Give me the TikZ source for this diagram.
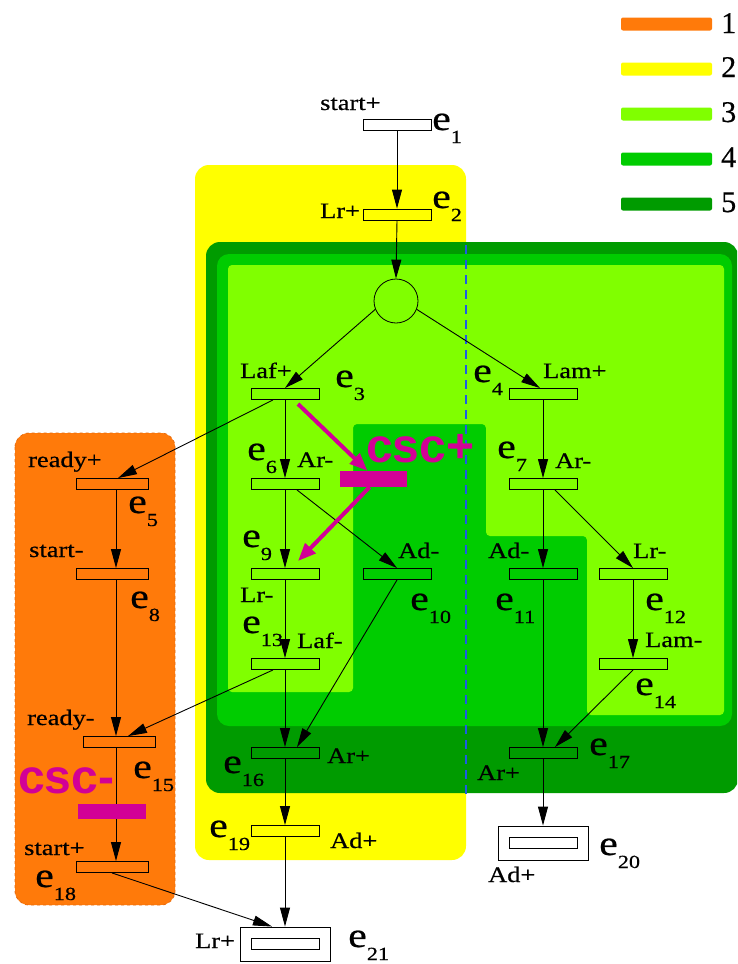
\documentclass[tikz,border=0pt]{standalone}
\usepackage{fontspec}
\setmainfont{Liberation Serif}[FakeStretch=1.2,FakeBold=0.6]
\newfontfamily\cscfont{Liberation Sans}
\newfontfamily\keyfont{Liberation Serif}[FakeBold=0.6]
\usetikzlibrary{arrows.meta,calc}
\definecolor{orng}{RGB}{255,122,10}
\definecolor{orngd}{RGB}{230,105,10}
\definecolor{yel}{RGB}{255,255,0}
\definecolor{g3}{RGB}{128,255,0}
\definecolor{g4}{RGB}{0,204,0}
\definecolor{g5}{RGB}{0,155,0}
\definecolor{csc}{RGB}{210,0,150}
\definecolor{blu}{RGB}{30,90,230}
\newcommand{\ev}[1]{{\fontsize{35}{35}\selectfont e}\raisebox{-13pt}{\fontsize{18.5}{18.5}\selectfont #1}}
\tikzset{
 tr/.style={draw, line width=0.9pt, minimum width=68pt, minimum height=11pt, inner sep=0pt},
 obox/.style={draw, line width=0.9pt, minimum width=90pt, minimum height=34pt, inner sep=0pt},
 lbl/.style={anchor=base west, inner sep=0pt, font=\fontsize{22}{22}\selectfont},
 elbl/.style={anchor=base west, inner sep=0pt},
 arr/.style={-{Triangle[length=19pt,width=10pt]}, line width=0.9pt},
 marr/.style={-{Triangle[length=18pt,width=14pt]}, line width=4pt, draw=csc},
 cscbar/.style={fill=csc, minimum width=67pt, minimum height=16pt, inner sep=0pt},
 cscl/.style={anchor=base west, inner sep=0pt, text=csc, font=\cscfont\bfseries\fontsize{48}{48}\selectfont},
 key/.style={rounded corners=2pt, minimum width=91pt, minimum height=13pt, inner sep=0pt},
 keyl/.style={anchor=base west, inner sep=0pt, font=\keyfont\fontsize{30}{30}\selectfont},
}
\begin{document}
\begin{tikzpicture}[x=1pt,y=-1pt]
\useasboundingbox (0,0) rectangle (737,964);
\clip (0,0) rectangle (737,964);
% regions
\fill[orng, rounded corners=14pt] (15,433) rectangle (175,905);
\draw[orngd, dashed, line width=0.8pt, rounded corners=14pt] (15,433) rectangle (175,905);
\fill[yel, rounded corners=14pt] (195,165) rectangle (466,860);
\fill[g5, rounded corners=14pt] (206,242) rectangle (738,793);
\fill[g4, rounded corners=12pt] (217,254) rectangle (732,726);
\fill[g3, rounded corners=4pt] (228,265) -- (724,265) -- (724,715) -- (587,715) -- (587,536) -- (486,536) -- (486,424) -- (353,424) -- (353,692) -- (228,692) -- cycle;
\draw[blu, dash pattern=on 9pt off 6pt, line width=1.8pt] (466,245) -- (466,795);
% legend
\node[key, fill=orng] (k1) at (666.5,24) {};
\node[key, fill=yel] (k2) at (666.5,69) {};
\node[key, fill=g3] (k3) at (666.5,114) {};
\node[key, fill=g4] (k4) at (666.5,159) {};
\node[key, fill=g5] (k5) at (666.5,204) {};
\node[keyl] (n1) at (721,33) {1};
\node[keyl] (n2) at (721,77) {2};
\node[keyl] (n3) at (721,122) {3};
\node[keyl] (n4) at (721,167) {4};
\node[keyl] (n5) at (721,212) {5};
% transitions
\node[tr] (e1) at (397,125) {};
\node[tr] (e2) at (397,214.5) {};
\node[circle, draw, minimum size=44pt, inner sep=0pt, line width=0.8pt] (c) at (396,301) {};
\node[tr] (e3) at (285,394) {};
\node[tr] (e4) at (543,394) {};
\node[tr, minimum width=72pt] (e5) at (112,484) {};
\node[tr] (e6) at (285,484) {};
\node[tr] (e7) at (543,484) {};
\node[tr, minimum width=72pt] (e8) at (112,574) {};
\node[tr] (e9) at (285,574) {};
\node[tr] (e10) at (397,574) {};
\node[tr] (e11) at (543,574) {};
\node[tr] (e12) at (633,574) {};
\node[tr] (e13) at (285,664) {};
\node[tr] (e14) at (633,664) {};
\node[tr, minimum width=72pt] (e15) at (119,742) {};
\node[tr] (e16) at (285,753) {};
\node[tr] (e17) at (543,753) {};
\node[tr, minimum width=72pt] (e18) at (112,867) {};
\node[tr] (e19) at (285,831) {};
\node[tr] (e20i) at (543,843) {};
\node[obox] (e20) at (543,843) {};
\node[tr] (e21i) at (285,944) {};
\node[obox] (e21) at (285,944) {};
% arrows
\coordinate (vx) at (116,0);
\draw[arr] (e1.south) -- (e2.north);
\draw[arr] (e2.south) -- (c.north);
\draw[arr] (c.202) -- (e3.north);
\draw[arr] (c.338) -- ([xshift=-3pt]e4.north);
\draw[arr] ([xshift=-12pt]e3.south) -- ([xshift=6pt]e5.north);
\draw[arr] (e3.south) -- (e6.north);
\draw[arr] (e6.south) -- (e9.north);
\draw[arr] ([xshift=12pt]e6.south) -- (e10.north);
\draw[arr] (e9.south) -- (e13.north);
\draw[arr] ([xshift=-12pt]e13.south) -- ([xshift=9pt]e15.north);
\draw[arr] (e13.south) -- (e16.north);
\draw[arr] (e10.south) -- ([xshift=12pt]e16.north);
\draw[arr] (e4.south) -- (e7.north);
\draw[arr] (e7.south) -- (e11.north);
\draw[arr] ([xshift=12pt]e7.south) -- (e12.north);
\draw[arr] (e12.south) -- (e14.north);
\draw[arr] (e11.south) -- (e17.north);
\draw[arr] (e14.south) -- ([xshift=12pt]e17.north);
\draw[arr] (e17.south) -- (e20.north);
\draw[arr] (e16.south) -- (e19.north);
\draw[arr] (e19.south) -- (e21.north);
\draw[arr] (e5.south -| vx) -- (e8.north -| vx);
\draw[arr] (e8.south -| vx) -- (e15.north -| vx);
\draw[arr] (e15.south -| vx) -- (e18.north -| vx);
\draw[arr] (e18.south) -- ([xshift=-13pt]e21.north);
% csc
\node[cscbar] (cscp) at (373.5,479) {};
\node[cscbar, minimum width=68pt, minimum height=15pt] (cscm) at (112,811.5) {};
\coordinate (m1) at (298,404);
\draw[marr] (m1) -- ([xshift=-6pt]cscp.north);
\draw[marr] ([xshift=-4pt]cscp.south) -- ([xshift=13pt,yshift=7pt]e9.north);
\node[cscl] (tcp) at (366,462) {csc+};
\node[cscl] (tcm) at (18,793) {csc-};
% labels
\node[lbl] (l1) at (320,110) {start+};
\node[elbl] (x1) at (432,130) {\ev{1}};
\node[lbl] (l2) at (320,218) {Lr+};
\node[elbl] (x2) at (432,208) {\ev{2}};
\node[lbl] (l3) at (240,378) {Laf+};
\node[elbl] (x3) at (335,387) {\ev{3}};
\node[elbl] (x4) at (473,382) {\ev{4}};
\node[lbl] (l4) at (543,378) {Lam+};
\node[elbl] (x6) at (247,460) {\ev{6}};
\node[lbl] (l6) at (297,467) {Ar-};
\node[elbl] (x7) at (497,458) {\ev{7}};
\node[lbl] (l7) at (555,468) {Ar-};
\node[lbl] (l5) at (28,467) {ready+};
\node[elbl] (x5) at (128,513) {\ev{5}};
\node[lbl] (l8) at (29,557) {start-};
\node[elbl] (x8) at (130,608) {\ev{8}};
\node[elbl] (x9) at (242,547) {\ev{9}};
\node[lbl] (l9) at (240,602) {Lr-};
\node[lbl] (l10) at (398,558) {Ad-};
\node[elbl] (x10) at (410,610) {\ev{10}};
\node[elbl] (x13) at (242,633) {\ev{13}};
\node[lbl] (l13) at (297,648) {Laf-};
\node[lbl] (l11) at (488,558) {Ad-};
\node[elbl] (x11) at (495,610) {\ev{11}};
\node[lbl] (l12) at (633,558) {Lr-};
\node[elbl] (x12) at (645,610) {\ev{12}};
\node[lbl] (l14) at (645,647) {Lam-};
\node[elbl] (x14) at (635,695) {\ev{14}};
\node[lbl] (l15) at (27,725) {ready-};
\node[elbl] (x15) at (133,778) {\ev{15}};
\node[elbl] (x16) at (223,773) {\ev{16}};
\node[lbl] (l16) at (327,763) {Ar+};
\node[elbl] (x17) at (589,755) {\ev{17}};
\node[lbl] (l17) at (477,780) {Ar+};
\node[elbl] (x19) at (209,837) {\ev{19}};
\node[lbl] (l19) at (330,848) {Ad+};
\node[lbl] (l18) at (24,855) {start+};
\node[elbl] (x18) at (35,887) {\ev{18}};
\node[elbl] (x20) at (599,855) {\ev{20}};
\node[lbl] (l20) at (488,882) {Ad+};
\node[lbl] (l21) at (195,948) {Lr+};
\node[elbl] (x21) at (348,947) {\ev{21}};
\end{tikzpicture}
\end{document}
